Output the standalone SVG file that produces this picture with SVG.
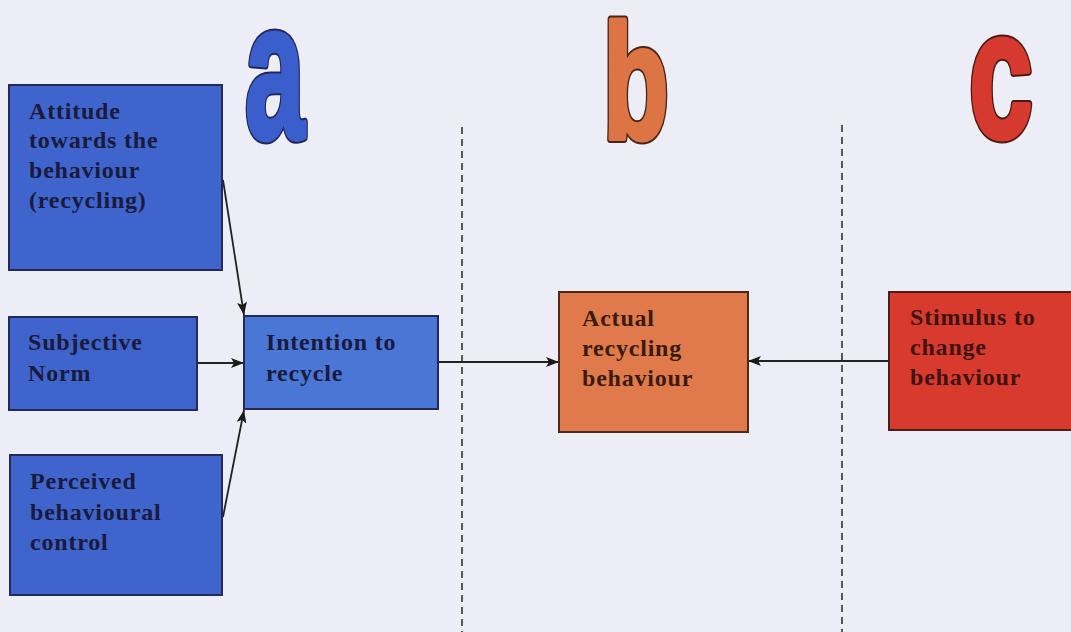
<svg xmlns="http://www.w3.org/2000/svg" xmlns:xlink="http://www.w3.org/1999/xlink" width="1071" height="632" viewBox="0 0 1071 632">
<defs>
<style>
.lbl{font-family:"Liberation Serif","Times New Roman",serif;font-weight:bold;font-size:24px;letter-spacing:0.8px}
.blue{fill:#3f64cc;stroke:#24285a;stroke-width:2}
.blue2{fill:#4a76d6;stroke:#24285a;stroke-width:2}
.orange{fill:#e07a4a;stroke:#4a2a1e;stroke-width:2}
.red{fill:#d83a2e;stroke:#4a1e1a;stroke-width:2}
.tb{fill:#1a1a3c}
.to{fill:#3a1a12}
.tr{fill:#3e1410}
.big{font-family:"Liberation Sans",Arial,sans-serif;font-weight:bold;stroke-linejoin:round}
.con{stroke:#222;stroke-width:1.8;fill:none}
.dash{stroke:#333;stroke-width:1.6;stroke-dasharray:7 5;fill:none}
</style>
<marker id="ah" markerWidth="13" markerHeight="10" refX="13" refY="5" orient="auto" markerUnits="userSpaceOnUse">
<path d="M0,0 L13,5 L0,10 L3,5 Z" fill="#1a1a1a"/>
</marker>
<text id="ga" class="big" font-size="195">a</text>
<text id="gb" class="big" font-size="163">b</text>
<text id="gc" class="big" font-size="182">c</text>
</defs>
<rect width="1071" height="632" fill="#edeef5"/>

<g id="letter-a" transform="translate(245,138) scale(0.55,1)">
<use href="#ga" xlink:href="#ga" fill="#22285a" stroke="#22285a" stroke-width="9"/>
<use href="#ga" xlink:href="#ga" fill="#3a5fcc" stroke="#3a5fcc" stroke-width="5"/>
</g>
<g id="letter-b" transform="translate(603,139) scale(0.66,1)">
<use href="#gb" xlink:href="#gb" fill="#4a2418" stroke="#4a2418" stroke-width="9"/>
<use href="#gb" xlink:href="#gb" fill="#dd7444" stroke="#dd7444" stroke-width="5"/>
</g>
<g id="letter-c" transform="translate(969,137) scale(0.63,1)">
<use href="#gc" xlink:href="#gc" fill="#4a1a16" stroke="#4a1a16" stroke-width="9"/>
<use href="#gc" xlink:href="#gc" fill="#d63a2e" stroke="#d63a2e" stroke-width="5"/>
</g>

<g id="dividers">
<line class="dash" x1="462" y1="127" x2="462" y2="632"/>
<line class="dash" x1="842" y1="125" x2="842" y2="632"/>
</g>

<g id="connectors">
<line class="con" x1="223" y1="180" x2="244" y2="315" marker-end="url(#ah)"/>
<line class="con" x1="197" y1="363" x2="244" y2="363" marker-end="url(#ah)"/>
<line class="con" x1="223" y1="517" x2="244" y2="410" marker-end="url(#ah)"/>
<line class="con" x1="438" y1="362" x2="559" y2="362" marker-end="url(#ah)"/>
<line class="con" x1="889" y1="361" x2="748" y2="361" marker-end="url(#ah)"/>
</g>

<g id="attitude">
<rect class="blue" x="9" y="85" width="213" height="185"/>
<text class="lbl tb" x="29" y="119">Attitude</text>
<text class="lbl tb" x="29" y="148">towards the</text>
<text class="lbl tb" x="29" y="178">behaviour</text>
<text class="lbl tb" x="29" y="208">(recycling)</text>
</g>

<g id="subjective">
<rect class="blue" x="9" y="317" width="188" height="93"/>
<text class="lbl tb" x="28" y="350">Subjective</text>
<text class="lbl tb" x="28" y="381">Norm</text>
</g>

<g id="intention">
<rect class="blue2" x="244" y="316" width="194" height="93"/>
<text class="lbl tb" x="266" y="350">Intention to</text>
<text class="lbl tb" x="266" y="381">recycle</text>
</g>

<g id="perceived">
<rect class="blue" x="10" y="455" width="212" height="140"/>
<text class="lbl tb" x="30" y="489">Perceived</text>
<text class="lbl tb" x="30" y="520">behavioural</text>
<text class="lbl tb" x="30" y="550">control</text>
</g>

<g id="actual">
<rect class="orange" x="559" y="292" width="189" height="140"/>
<text class="lbl to" x="582" y="326">Actual</text>
<text class="lbl to" x="582" y="356">recycling</text>
<text class="lbl to" x="582" y="386">behaviour</text>
</g>

<g id="stimulus">
<rect class="red" x="889" y="292" width="190" height="138"/>
<text class="lbl tr" x="910" y="325">Stimulus to</text>
<text class="lbl tr" x="910" y="355">change</text>
<text class="lbl tr" x="910" y="385">behaviour</text>
</g>
</svg>
